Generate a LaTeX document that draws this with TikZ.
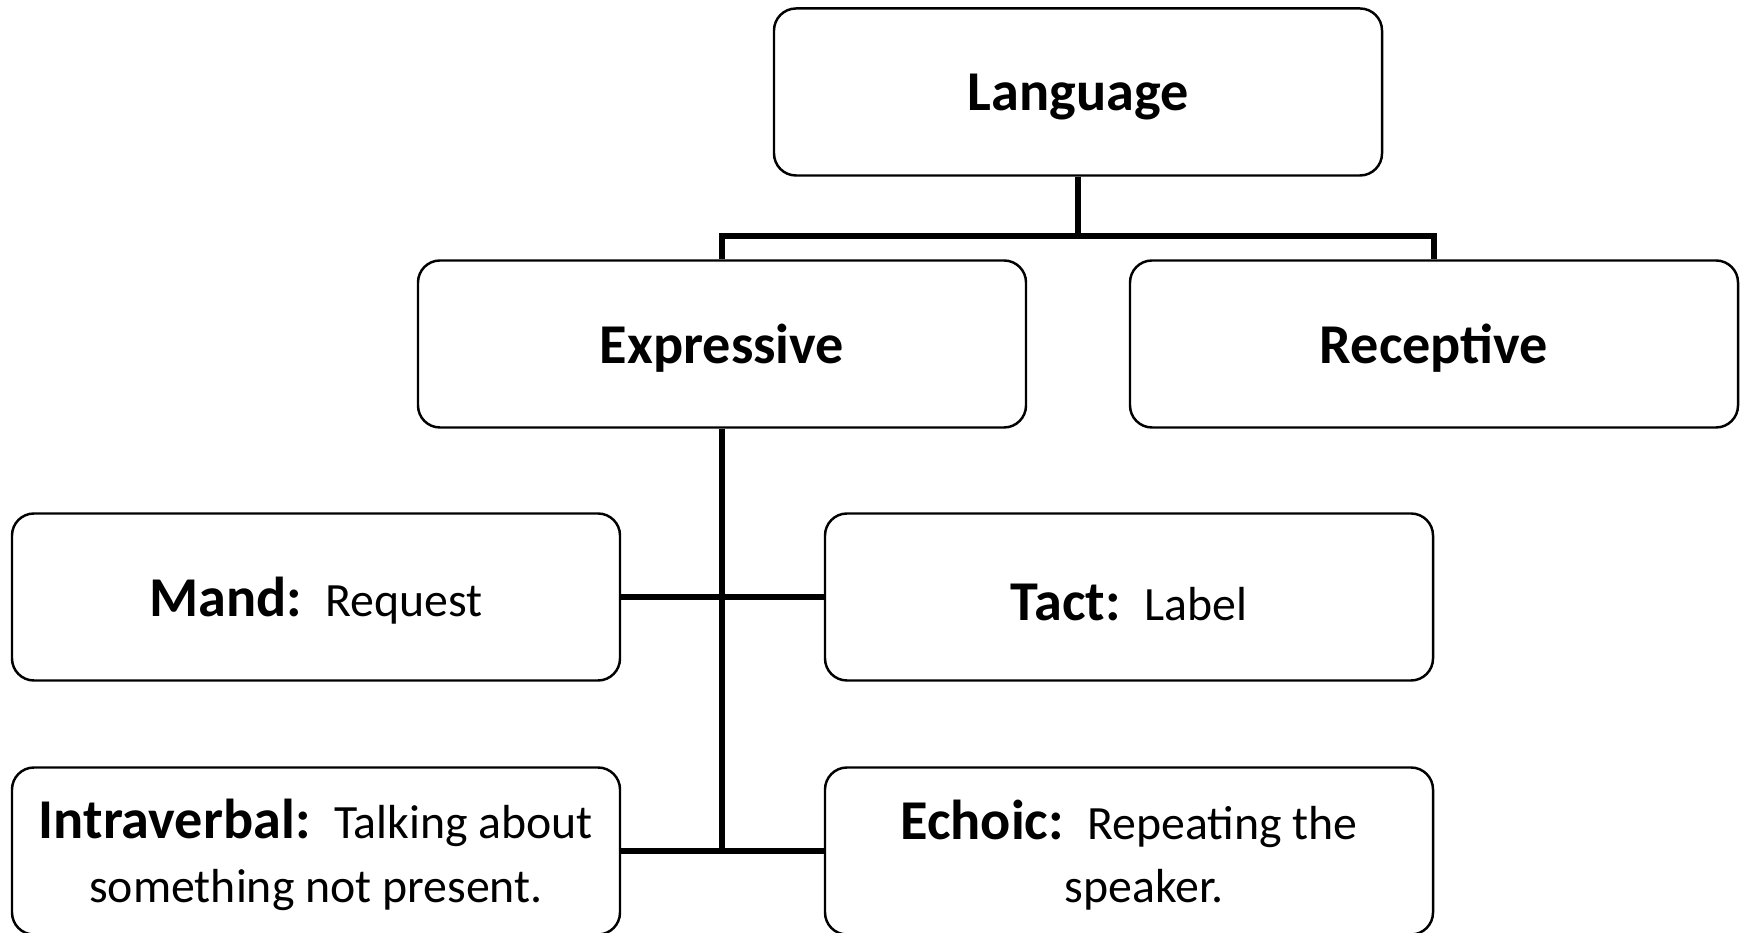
\documentclass[tikz,border=0pt]{standalone}
\usepackage{fontspec}
\setmainfont{Carlito}
\usetikzlibrary{positioning,calc}

\newcommand{\term}[1]{{\fontsize{16}{18}\selectfont\bfseries\rule{0pt}{13.5pt}#1}}
\newcommand{\gloss}[1]{{\fontsize{13.6}{16.5}\selectfont\ \ \kern0.6pt #1}}

\tikzset{
  catbox/.style={draw, line width=0.7pt, rounded corners=0.22cm, rectangle,
    minimum width=6.08cm, minimum height=1.67cm, align=center, inner sep=2pt,
    font=\fontsize{13.6}{16.5}\selectfont},
  link/.style={draw, line width=1.7pt}
}

\begin{document}
\begin{tikzpicture}
\useasboundingbox (0,0) rectangle (17.47,9.33);
% top level
\node[catbox] (lang) at (10.78,8.41) {\term{Language}};
\node[catbox] (expr) at (7.22,5.89) {\term{Expressive}};
\node[catbox] (recp) at (14.34,5.89) {\term{Receptive}};
% verbal operants
\node[catbox] (mand) at (3.16,3.36) {\term{Mand:}\gloss{Request}};
\node[catbox] (tact) at (11.29,3.36) {\term{Tact:}\gloss{Label}};
\node[catbox] (intra) at (3.16,0.82)
  {\term{Intraverbal:}\gloss{Talking about}\\[1.5pt]something not present.};
\node[catbox] (echo) at (11.29,0.82)
  {\term{Echoic:}\gloss{Repeating the}\\[1.5pt]\hspace*{0.3cm}speaker.};
% connectors
\coordinate (split) at (10.78,6.97);
\draw[link] (lang.south) -- (split);
\draw[link] (expr.north) |- (split) -| (recp.north);
\draw[link] (expr.south) -- (expr.south |- intra.east);
\draw[link] (mand.east) -- (tact.west);
\draw[link] (intra.east) -- (echo.west);
\end{tikzpicture}
\end{document}
